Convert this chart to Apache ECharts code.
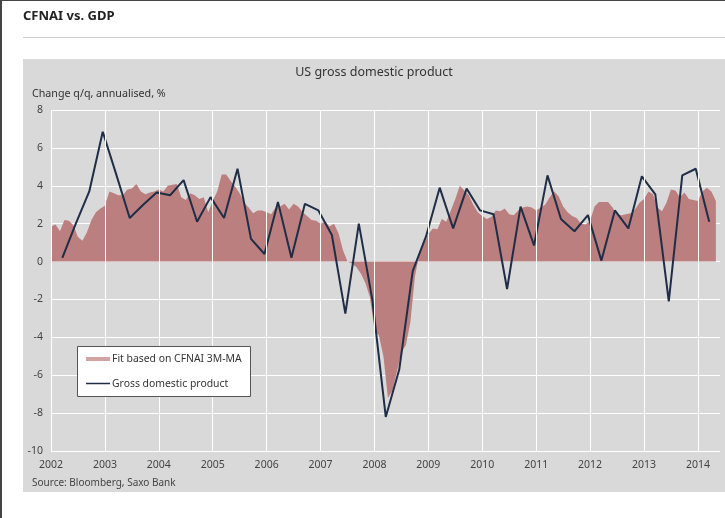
<!DOCTYPE html>
<html><head><meta charset="utf-8">
<script src="https://cdn.jsdelivr.net/npm/echarts@6/dist/echarts.min.js"></script>
<style>
html,body{margin:0;padding:0;background:#fff;}
#wrap{position:relative;width:725px;height:518px;overflow:hidden;}
#panel{position:absolute;left:23px;top:59px;width:702px;height:433px;background:#d9d9d9;}
#rule{position:absolute;left:23px;top:37px;width:702px;height:1px;background:#cfcfcf;}
#lb{position:absolute;left:0;top:0;width:2px;height:518px;background:#444;}
#tb{position:absolute;left:0;top:0;width:725px;height:1px;background:#444;}
#chart{position:absolute;left:0;top:0;width:725px;height:518px;}
</style></head>
<body>
<div id="wrap">
<div id="panel"></div><div id="rule"></div><div id="lb"></div><div id="tb"></div>
<div id="chart"></div>
</div>
<script>
// Years shown on the x axis
var yearTicks = [2002,2003,2004,2005,2006,2007,2008,2009,2010,2011,2012,2013,2014];
// Monthly fit based on CFNAI 3M-MA, starting Jan 2002
var fitStart = 2002;
var fitValues = [
1.85,1.95,1.6,2.2,2.15,1.9,1.3,1.1,1.55,2.2,2.6,2.8,
2.95,3.7,3.6,3.5,3.5,3.8,3.85,4.1,3.7,3.55,3.65,3.7,
3.8,3.7,4.0,4.05,4.1,3.4,3.25,3.6,3.5,3.3,3.4,2.6,
3.2,3.7,4.6,4.6,4.25,3.95,3.6,3.1,2.85,2.55,2.7,2.7,
2.6,2.5,2.85,2.9,3.05,2.75,3.05,2.9,2.6,2.4,2.2,2.15,
2.0,2.1,1.85,2.0,1.5,0.6,0.0,-0.1,-0.3,-0.65,-1.15,-1.9,
-3.6,-3.9,-5.0,-7.2,-6.8,-5.8,-4.8,-4.4,-3.2,-0.8,0.4,0.95,
1.45,1.75,1.7,2.25,2.1,2.7,3.3,4.0,3.75,3.5,3.0,2.6,
2.4,2.25,2.35,2.7,2.65,2.8,2.5,2.45,2.7,2.85,2.9,2.85,
2.7,2.85,3.0,3.4,3.7,3.45,2.9,2.6,2.4,2.3,2.0,1.95,
2.15,2.9,3.15,3.15,3.15,2.85,2.5,2.45,2.5,2.55,2.75,3.1,
3.3,3.7,3.55,2.85,2.65,3.1,3.8,3.75,3.4,3.65,3.3,3.25,
3.2,3.7,3.9,3.7,3.2
];
// Quarterly GDP, change q/q annualised, as plotted
var gdpStart = 2002.21;
var gdpValues = [
0.2,2.0,3.7,6.85,4.6,2.3,3.0,3.65,3.5,4.3,2.1,3.4,
2.3,4.9,1.2,0.4,3.15,0.2,3.05,2.7,1.4,-2.75,2.0,-2.0,
-8.2,-5.7,-0.5,1.35,3.9,1.75,3.85,2.7,2.5,-1.45,2.9,0.85,
4.55,2.25,1.6,2.45,0.05,2.7,1.75,4.5,3.55,-2.1,4.55,4.9,2.1
];
var yTicks = {min:-10, max:8, interval:2};

var fitData = fitValues.map(function(v,i){return [fitStart + i/12, v];});
var gdpData = gdpValues.map(function(v,i){return [gdpStart + i*0.25, v];});

var FONT = '"Noto Sans", "DejaVu Sans", sans-serif';
var chart = echarts.init(document.getElementById('chart'), null, {renderer:'canvas'});
chart.setOption({
  animation:false,
  backgroundColor:'transparent',
  grid:{left:51, top:110, right:5, bottom:67},
  xAxis:{
    type:'value', min:2002, max:2014.41, interval:1,
    axisLine:{show:false}, axisTick:{show:false}, splitLine:{show:false},
    axisLabel:{color:'#444', fontFamily:FONT, fontSize:10.5, margin:9,
      formatter:function(v){return (Math.abs(v-Math.round(v))<1e-6)? String(Math.round(v)) : '';},
      showMaxLabel:false}
  },
  yAxis:{
    type:'value', min:yTicks.min, max:yTicks.max, interval:yTicks.interval,
    axisLine:{show:false}, axisTick:{show:false},
    splitLine:{show:true, lineStyle:{color:'#ffffff', width:1}},
    axisLabel:{color:'#444', fontFamily:FONT, fontSize:10.5, margin:8}
  },
  series:[
    {type:'line', name:'grid', data:[], z:1, silent:true,
     markLine:{silent:true, symbol:'none', label:{show:false}, animation:false,
       lineStyle:{color:'#ffffff', width:1, type:'solid'},
       data: yearTicks.map(function(y){return {xAxis:y};})}},
    {type:'line', name:'Fit based on CFNAI 3M-MA', data:fitData, z:2, symbol:'none',
     lineStyle:{width:0, opacity:0}, areaStyle:{color:'#ba7f7e', opacity:1}},
    {type:'line', name:'Gross domestic product', data:gdpData, z:3, symbol:'none',
     lineStyle:{width:2, color:'#1f2d47'}}
  ],
  graphic:[
    {type:'text', left:23, top:10, z:10, style:{text:'CFNAI vs. GDP', fontFamily:FONT, fontSize:13, fontWeight:'bold', fill:'#222'}},
    {type:'text', x:374, y:72, z:10, style:{text:'US gross domestic product', fontFamily:FONT, fontSize:12.5, fill:'#333', align:'center', verticalAlign:'middle'}},
    {type:'text', x:32, y:94, z:10, style:{text:'Change q/q, annualised, %', fontFamily:FONT, fontSize:10.7, fill:'#333', verticalAlign:'middle'}},
    {type:'text', x:32, y:483, z:10, style:{text:'Source: Bloomberg, Saxo Bank', fontFamily:FONT, fontSize:10, fill:'#444', verticalAlign:'middle'}},
    {type:'rect', shape:{x:77.5, y:346.5, width:173, height:50}, z:20, style:{fill:'#fff', stroke:'#555', lineWidth:1}},
    {type:'rect', shape:{x:86, y:357, width:24, height:4}, z:21, style:{fill:'#d3a3a3'}},
    {type:'text', x:112, y:359, z:21, style:{text:'Fit based on CFNAI 3M-MA', fontFamily:FONT, fontSize:10.4, fill:'#333', verticalAlign:'middle'}},
    {type:'line', shape:{x1:86, y1:383.5, x2:110, y2:383.5}, z:21, style:{stroke:'#1f2d47', lineWidth:1.5}},
    {type:'text', x:112, y:384, z:21, style:{text:'Gross domestic product', fontFamily:FONT, fontSize:10.4, fill:'#333', verticalAlign:'middle'}}
  ]
});
</script>
</body></html>
